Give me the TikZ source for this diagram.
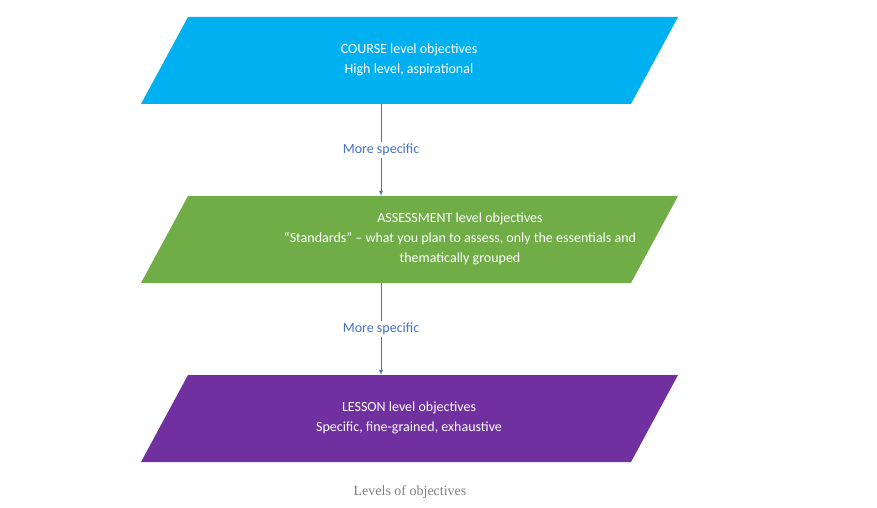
\documentclass[tikz,border=0pt]{standalone}
\usepackage{fontspec}
\setmainfont{Carlito}
\newfontfamily\capfont{Liberation Serif}
\definecolor{course}{HTML}{00B0F0}
\definecolor{assess}{HTML}{70AD47}
\definecolor{lesson}{HTML}{7030A0}
\definecolor{linkblue}{HTML}{4472C4}
\begin{document}
\begin{tikzpicture}[x=1pt,y=-1pt,
    level/.style={text=white,align=center,font=\fontsize{14}{20}\selectfont},
    link/.style={draw=linkblue,thick,-latex},
    linklabel/.style={fill=white,text=linkblue,font=\fontsize{14}{16}\selectfont,inner sep=2pt}]
  \useasboundingbox (0,0) rectangle (877,508);

  % Parallelograms
  \foreach \top/\col in {17/course,196/assess,375/lesson} {
    \fill[\col] (188,\top) -- (678,\top) -- (631,\top+87) -- (141,\top+87) -- cycle;
  }

  % Texts
  \node[level] (course) at (409,60) {COURSE level objectives\\High level, aspirational};
  \node[level] (assess) at (460,239) {ASSESSMENT level objectives\\``Standards'' -- what you plan to assess, only the essentials and\\thematically grouped};
  \node[level] (lesson) at (409,418) {LESSON level objectives\\Specific, fine-grained, exhaustive};

  % Connectors
  \coordinate (c1) at (381,104);
  \coordinate (a1) at (381,196);
  \coordinate (a2) at (381,283);
  \coordinate (l1) at (381,375);
  \draw[link] (c1) -- (a1) node[midway,linklabel] (spec1) {More specific};
  \draw[link] (a2) -- (l1) node[midway,linklabel] (spec2) {More specific};

  % Caption
  \node[text=gray,font=\capfont\fontsize{14}{16}\selectfont] (caption) at (410,492) {Levels of objectives};
\end{tikzpicture}
\end{document}
